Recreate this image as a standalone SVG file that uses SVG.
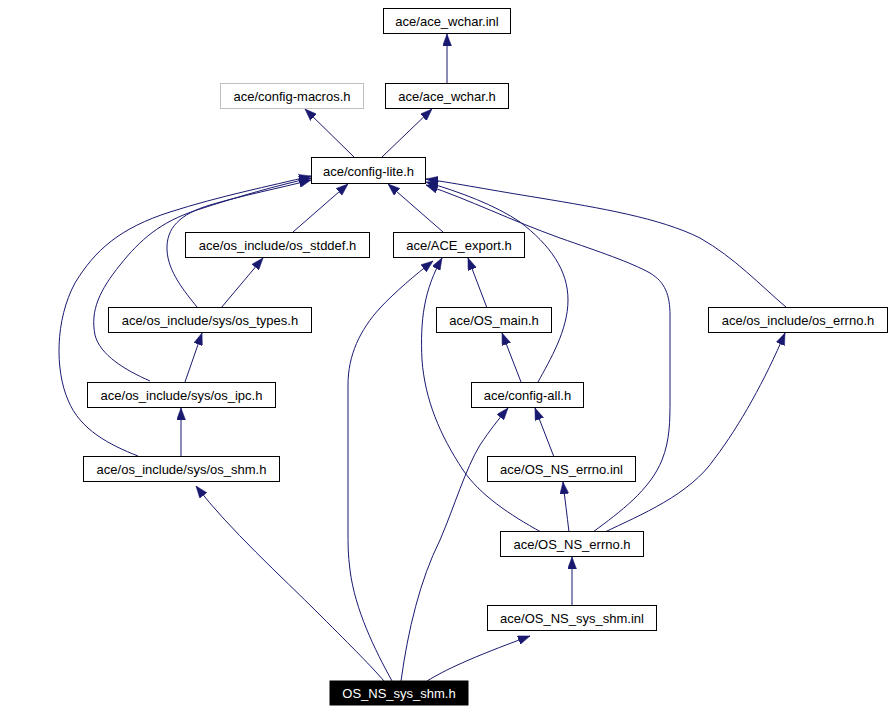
<svg xmlns="http://www.w3.org/2000/svg" width="893" height="712" viewBox="0 0 893 712">
<style>
.n rect{fill:#fff;stroke:#000;stroke-width:1}
.n text{font-family:"Liberation Sans",Arial,sans-serif;font-size:13px;fill:#000;text-anchor:middle}
#n_config_macros rect{stroke:#bfbfbf}
#n_ns_sys_shm_h rect{fill:#000}
#n_ns_sys_shm_h text{fill:#fff}
.e path{fill:none;stroke:#191970;stroke-width:1;marker-end:url(#ah)}
</style>
<defs>
<marker id="ah" markerUnits="userSpaceOnUse" markerWidth="12" markerHeight="9" viewBox="0 0 12 9" refX="12" refY="4.5" orient="auto">
<path d="M0,0 L12,4.5 L0,9 z" fill="#191970" stroke="#191970" stroke-width="0.5"/>
</marker>
</defs>
<rect width="893" height="712" fill="#fff"/>
<g id="edges" class="e">
<path d="M447,83 L447,34"/>
<path d="M354,157 L305,109"/>
<path d="M382,157 L432,109"/>
<path d="M293,232 L348,184"/>
<path d="M443,232 L388,184"/>
<path d="M221,308 L263,258"/>
<path d="M185,382 L202,333"/>
<path d="M181,457 L181,408"/>
<path d="M487,308 L468,258"/>
<path d="M521,382 L502,333"/>
<path d="M554,457 L535,408"/>
<path d="M569,532 C567,515 565,500 563,482"/>
<path d="M572,606 L572,557"/>
<path d="M197,307 C185,292 168,272 167,250 C166,228 180,214 210,205 C240,196 280,188 311,180"/>
<path d="M150,381 C125,370 100,355 95,335 C90,310 100,290 120,265 C140,240 160,222 197,210 C240,196 275,186 311,178"/>
<path d="M138,456 C110,445 80,430 68,400 C55,370 55,320 75,283 C95,250 120,228 170,212 C220,196 270,186 311,176"/>
<path d="M538,382 C550,360 568,330 568,300 C568,270 550,245 520,222 C495,205 460,192 426,182"/>
<path d="M593,532 C620,512 650,490 662,460 C670,440 670,420 670,400 L670,315 C670,295 665,282 650,273 C630,262 600,252 560,238 C510,220 470,200 426,185"/>
<path d="M787,308 C760,285 735,258 700,238 C660,218 600,208 540,198 C490,190 460,184 426,179"/>
<path d="M605,532 C640,515 690,495 715,458 C740,425 765,380 785,333"/>
<path d="M541,532 C510,515 480,495 463,470 C440,435 425,400 422,360 C420,320 424,290 442,258"/>
<path d="M392,681 C375,650 355,610 350,570 C348,555 348,545 348,530 L348,385 C348,355 360,330 380,308 C395,292 415,275 433,261"/>
<path d="M401,681 C408,630 420,580 440,540 C455,505 465,470 480,445 C490,430 498,420 508,408"/>
<path d="M384,681 C370,665 355,650 320,615 C280,575 230,530 196,486"/>
<path d="M427,681 C445,670 470,658 530,636"/>
</g>
<g id="n_wchar_inl" class="n"><rect x="383.5" y="8.5" width="127" height="25"/><text x="447" y="26">ace/ace_wchar.inl</text></g>
<g id="n_config_macros" class="n"><rect x="220.5" y="83.5" width="143" height="25"/><text x="292" y="101">ace/config-macros.h</text></g>
<g id="n_wchar_h" class="n"><rect x="385.5" y="83.5" width="123" height="25"/><text x="447" y="101">ace/ace_wchar.h</text></g>
<g id="n_config_lite" class="n"><rect x="311.5" y="157.5" width="114" height="26"/><text x="368.5" y="175.5">ace/config-lite.h</text></g>
<g id="n_os_stddef" class="n"><rect x="185.5" y="232.5" width="184" height="25"/><text x="277.5" y="250">ace/os_include/os_stddef.h</text></g>
<g id="n_ace_export" class="n"><rect x="393.5" y="232.5" width="131" height="25"/><text x="459" y="250">ace/ACE_export.h</text></g>
<g id="n_os_types" class="n"><rect x="108.5" y="307.5" width="203" height="25"/><text x="210" y="325">ace/os_include/sys/os_types.h</text></g>
<g id="n_os_main" class="n"><rect x="436.5" y="307.5" width="115" height="25"/><text x="494" y="325">ace/OS_main.h</text></g>
<g id="n_os_errno" class="n"><rect x="708.5" y="307.5" width="179" height="25"/><text x="798" y="325">ace/os_include/os_errno.h</text></g>
<g id="n_os_ipc" class="n"><rect x="87.5" y="382.5" width="188" height="25"/><text x="181.5" y="400">ace/os_include/sys/os_ipc.h</text></g>
<g id="n_config_all" class="n"><rect x="471.5" y="382.5" width="112" height="25"/><text x="527.5" y="400">ace/config-all.h</text></g>
<g id="n_os_shm" class="n"><rect x="83.5" y="456.5" width="196" height="25"/><text x="181.5" y="474">ace/os_include/sys/os_shm.h</text></g>
<g id="n_ns_errno_inl" class="n"><rect x="487.5" y="456.5" width="148" height="25"/><text x="561.5" y="474">ace/OS_NS_errno.inl</text></g>
<g id="n_ns_errno_h" class="n"><rect x="500.5" y="531.5" width="143" height="25"/><text x="572" y="549">ace/OS_NS_errno.h</text></g>
<g id="n_ns_sys_shm_inl" class="n"><rect x="487.5" y="605.5" width="169" height="25"/><text x="572" y="623">ace/OS_NS_sys_shm.inl</text></g>
<g id="n_ns_sys_shm_h" class="n"><rect x="330" y="681" width="138" height="24"/><text x="399" y="698">OS_NS_sys_shm.h</text></g>
</svg>
